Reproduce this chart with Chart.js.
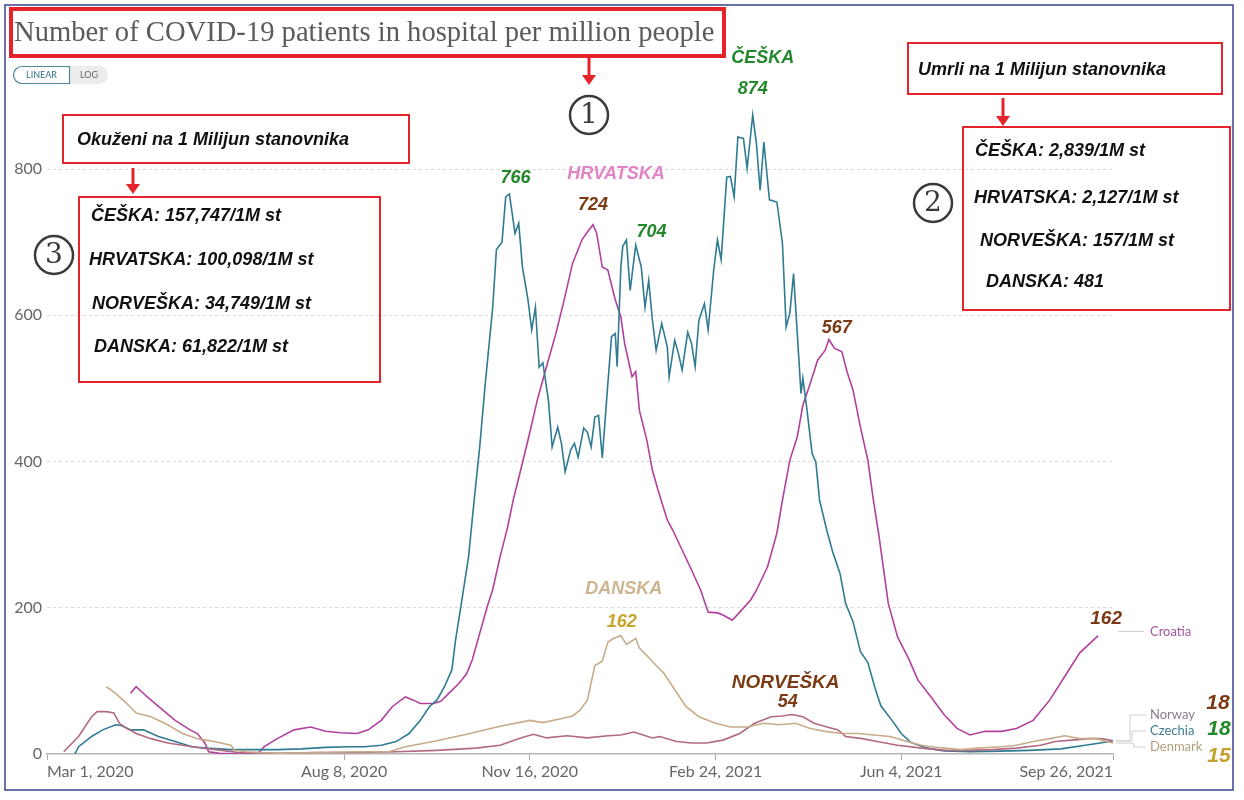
<!DOCTYPE html>
<html>
<head>
<meta charset="utf-8">
<title>COVID-19 patients in hospital per million people</title>
<script src="https://cdn.jsdelivr.net/npm/chart.js@4.4.0/dist/chart.umd.min.js"></script>
<style>
  html, body { margin: 0; padding: 0; background: #fff; }
  #wrap { width: 1244px; height: 800px; }
</style>
</head>
<body>
<div id="wrap"><canvas id="mycanvas" width="1244" height="800"></canvas></div>
<script>
// days counted from Mar 1, 2020
var tickDays = [0, 160, 260, 360, 460, 574];
var tickLabels = ['Mar 1, 2020', 'Aug 8, 2020', 'Nov 16, 2020', 'Feb 24, 2021', 'Jun 4, 2021', 'Sep 26, 2021'];
var yTicks = [0, 200, 400, 600, 800];

var czDays = [15,17,24,30,37,40,45,52,60,69,78,86,99,111,124,137,150,163,171,180,188,195,201,206,210,214,218,220,223,227,230,233,236,240,242,245,247,249,252,254,256,259,261,263,265,267,270,272,275,277,279,282,284,286,289,291,293,295,297,299,302,304,306,307,309,310,312,314,317,320,322,324,326,328,331,334,335,338,340,342,345,347,349,351,354,356,359,361,363,366,368,370,372,375,377,380,382,384,386,389,393,396,398,400,402,404,406,407,409,412,414,416,420,423,427,430,434,438,442,446,449,455,460,465,474,483,497,513,529,546,559,567,574];
var czValues = [0,10,24,33,40,39,33,33,24,17,10,8,6,6,6,7,9,10,10,12,17,28,46,65,74,92,115,156,204,270,347,420,507,611,690,700,762,766,712,726,666,621,580,611,529,535,484,420,447,425,386,416,425,406,446,440,420,461,463,405,507,571,575,530,666,694,703,634,696,666,611,648,593,552,589,557,516,566,548,525,577,562,530,593,616,580,662,703,676,789,790,762,844,842,801,874,835,771,837,758,755,699,584,603,657,575,493,514,475,411,399,347,305,277,247,206,181,140,125,89,66,46,28,16,8,4,3,4,5,7,12,15,18];

var hrDays = [45,48,54,60,69,77,81,85,87,93,104,114,117,124,133,142,150,158,167,173,180,186,193,197,201,208,212,218,222,226,229,233,237,240,244,248,251,256,260,264,269,274,278,283,288,291,294,296,299,302,306,309,311,315,317,319,323,326,329,334,337,342,347,352,356,361,364,369,373,379,382,388,393,396,400,404,407,411,415,419,421,424,428,431,434,438,442,445,448,453,458,464,469,476,483,490,497,505,514,522,531,540,548,556,566];
var hrValues = [83,92,78,65,46,33,28,15,3,1,0,2,10,21,33,37,31,29,28,33,46,65,78,74,69,69,72,87,97,110,129,165,201,225,270,310,347,398,440,484,530,575,616,671,703,714,724,712,666,662,621,598,562,516,523,470,429,388,361,320,306,279,252,224,194,193,190,183,194,211,224,256,302,347,402,434,477,507,539,552,567,555,550,521,498,447,402,347,298,206,160,130,101,78,54,35,26,31,31,35,46,74,106,138,162];

var dkDays = [32,37,43,48,56,65,73,81,90,99,101,107,124,145,167,184,193,208,226,244,260,267,276,283,287,291,295,299,302,305,309,312,317,319,324,328,332,337,344,351,360,368,377,386,394,403,411,419,428,437,445,454,463,471,479,492,501,514,522,531,540,548,556,565,574];
var dkValues = [92,83,69,56,51,40,28,21,17,12,5,3,1,2,3,3,10,17,27,38,46,43,48,52,60,74,121,127,153,158,162,150,158,145,132,121,111,92,65,51,42,37,37,42,40,42,35,31,28,28,26,24,17,12,9,6,8,10,12,17,21,25,21,21,15];

var noDays = [9,17,24,27,32,36,39,43,48,56,65,73,81,94,103,124,145,167,188,210,231,244,255,262,269,280,291,302,309,316,321,326,330,339,347,355,364,373,381,390,396,401,407,413,420,426,430,439,447,458,471,484,497,509,522,535,543,552,561,568,574];
var noValues = [3,24,51,58,58,56,42,35,28,21,15,12,9,5,2,1,2,2,3,5,8,12,22,27,22,25,22,25,26,30,26,22,24,17,15,15,19,28,42,51,52,54,51,42,37,33,24,21,17,12,8,5,5,6,8,12,17,19,21,21,18];

var GREEN = '#23882a';
var BROWN = '#7a3b14';
var BOLD = 'italic bold 18px "Liberation Sans", Arial, sans-serif';

function toPoints(days, values) {
  return days.map(function (d, i) { return { x: d, y: values[i] }; });
}

function valueAt(days, values, day) {
  return values[days.indexOf(day)];
}

// labels placed next to the data points they describe
var peakLabels = [
  { days: czDays, values: czValues, day: 249, text: '766', color: GREEN, dx: 6, dy: -16 },
  { days: hrDays, values: hrValues, day: 294, text: 'HRVATSKA', color: '#e283c6', dx: 23, dy: -51 },
  { days: hrDays, values: hrValues, day: 294, text: '724', color: BROWN, dx: 0, dy: -20 },
  { days: czDays, values: czValues, day: 312, text: '704', color: GREEN, dx: 25, dy: -8 },
  { days: czDays, values: czValues, day: 380, text: 'ČEŠKA', color: GREEN, dx: 10, dy: -57 },
  { days: czDays, values: czValues, day: 380, text: '874', color: GREEN, dx: 0, dy: -26 },
  { days: hrDays, values: hrValues, day: 421, text: '567', color: BROWN, dx: 8, dy: -11 },
  { days: dkDays, values: dkValues, day: 309, text: 'DANSKA', color: '#cdb48e', dx: 3, dy: -47 },
  { days: dkDays, values: dkValues, day: 309, text: '162', color: '#c9a42b', dx: 1, dy: -14 },
  { days: noDays, values: noValues, day: 401, text: 'NORVEŠKA', color: BROWN, dx: -6, dy: -32, size: 19 },
  { days: noDays, values: noValues, day: 401, text: '54', color: BROWN, dx: -4, dy: -12 },
  { days: hrDays, values: hrValues, day: 566, text: '162', color: BROWN, dx: 8, dy: -17, size: 19 }
];

function box(ctx, x1, y1, x2, y2, w) {
  ctx.save();
  ctx.strokeStyle = '#e5232b';
  ctx.lineWidth = w;
  ctx.strokeRect(x1, y1, x2 - x1, y2 - y1);
  ctx.restore();
}

function arrow(ctx, x, y1, y2) {
  ctx.save();
  ctx.strokeStyle = '#e5232b';
  ctx.fillStyle = '#e5232b';
  ctx.lineWidth = 3;
  ctx.beginPath();
  ctx.moveTo(x, y1);
  ctx.lineTo(x, y2 - 8);
  ctx.stroke();
  ctx.beginPath();
  ctx.moveTo(x - 7, y2 - 10);
  ctx.lineTo(x + 7, y2 - 10);
  ctx.lineTo(x, y2);
  ctx.closePath();
  ctx.fill();
  ctx.restore();
}

function circled(ctx, x, y, txt) {
  ctx.save();
  ctx.strokeStyle = '#3a3a3a';
  ctx.lineWidth = 2.5;
  ctx.beginPath();
  ctx.arc(x, y, 19, 0, Math.PI * 2);
  ctx.stroke();
  ctx.fillStyle = '#3a3a3a';
  ctx.font = '28px "DejaVu Serif", serif';
  ctx.textAlign = 'center';
  ctx.textBaseline = 'middle';
  ctx.fillText(txt, x, y + 1);
  ctx.restore();
}

function lines(ctx, rows) {
  ctx.save();
  ctx.fillStyle = '#111';
  ctx.font = BOLD;
  ctx.textAlign = 'left';
  ctx.textBaseline = 'middle';
  rows.forEach(function (r) { ctx.fillText(r[0], r[1], r[2]); });
  ctx.restore();
}

var overlay = {
  id: 'overlay',
  beforeDraw: function (chart) {
    var ctx = chart.ctx;
    ctx.save();
    ctx.fillStyle = '#fff';
    ctx.fillRect(0, 0, chart.width, chart.height);
    ctx.restore();
  },
  afterDraw: function (chart) {
    var ctx = chart.ctx;
    var xs = chart.scales.x, ys = chart.scales.y;
    var area = chart.chartArea;

    // frame
    ctx.save();
    ctx.strokeStyle = '#3b4190';
    ctx.lineWidth = 1.5;
    ctx.strokeRect(5, 5, 1228, 785);
    ctx.restore();

    // title
    ctx.save();
    var title = 'Number of COVID-19 patients in hospital per million people';
    ctx.font = '27px "Liberation Serif", serif';
    var size = 27 * 700 / ctx.measureText(title).width;
    ctx.font = size.toFixed(1) + 'px "Liberation Serif", serif';
    ctx.fillStyle = '#5b5b5b';
    ctx.textBaseline = 'alphabetic';
    ctx.fillText(title, 14, 41);
    ctx.restore();
    box(ctx, 11, 9, 724, 56, 4);

    // linear / log toggle
    ctx.save();
    ctx.fillStyle = '#ececec';
    ctx.beginPath();
    ctx.roundRect(13, 66, 95, 18, 9);
    ctx.fill();
    ctx.fillStyle = '#fff';
    ctx.strokeStyle = '#4d8794';
    ctx.lineWidth = 1.2;
    ctx.beginPath();
    ctx.roundRect(13.5, 66.5, 56, 17, [8.5, 0, 0, 8.5]);
    ctx.fill();
    ctx.stroke();
    ctx.font = '9px Lato, sans-serif';
    ctx.textBaseline = 'middle';
    ctx.textAlign = 'center';
    ctx.fillStyle = '#2f6f7f';
    ctx.fillText('LINEAR', 41.5, 75.5);
    ctx.fillStyle = '#666';
    ctx.fillText('LOG', 89, 75.5);
    ctx.restore();

    // (1)
    arrow(ctx, 589, 57, 85);
    circled(ctx, 589, 115, '1');

    // (3) infected
    box(ctx, 63, 115, 409, 163, 2);
    lines(ctx, [['Okuženi na 1 Milijun stanovnika', 77, 140]]);
    arrow(ctx, 133, 168, 194);
    box(ctx, 79, 197, 380, 382, 2);
    lines(ctx, [
      ['ČEŠKA: 157,747/1M st', 91, 216],
      ['HRVATSKA: 100,098/1M st', 89, 260],
      ['NORVEŠKA: 34,749/1M st', 92, 304],
      ['DANSKA: 61,822/1M st', 94, 347]
    ]);
    circled(ctx, 54, 255, '3');

    // (2) deaths
    box(ctx, 908, 43, 1222, 94, 2);
    lines(ctx, [['Umrli na 1 Milijun stanovnika', 918, 70]]);
    arrow(ctx, 1003, 98, 126);
    box(ctx, 963, 127, 1230, 310, 2);
    lines(ctx, [
      ['ČEŠKA: 2,839/1M st', 975, 151],
      ['HRVATSKA: 2,127/1M st', 974, 198],
      ['NORVEŠKA: 157/1M st', 980, 241],
      ['DANSKA: 481', 986, 282]
    ]);
    circled(ctx, 933, 203, '2');

    // peak labels
    ctx.save();
    ctx.textAlign = 'center';
    ctx.textBaseline = 'middle';
    peakLabels.forEach(function (p) {
      var v = valueAt(p.days, p.values, p.day);
      ctx.font = 'italic bold ' + (p.size || 18) + 'px "Liberation Sans", Arial, sans-serif';
      ctx.fillStyle = p.color;
      ctx.fillText(p.text, xs.getPixelForValue(p.day) + p.dx, ys.getPixelForValue(v) + p.dy);
    });
    ctx.restore();

    // end labels
    ctx.save();
    ctx.strokeStyle = '#cfcfcf';
    ctx.lineWidth = 1;
    var hrEnd = ys.getPixelForValue(hrValues[hrValues.length - 1]);
    var hrY = hrEnd - 4;
    ctx.beginPath();
    ctx.moveTo(area.right + 5, hrY);
    ctx.lineTo(area.right + 31, hrY);
    ctx.stroke();
    var ends = [
      { name: 'Norway', color: '#8b7d8c', y: area.bottom - 39, v: noValues[noValues.length - 1] },
      { name: 'Czechia', color: '#3d7f90', y: area.bottom - 23, v: czValues[czValues.length - 1] },
      { name: 'Denmark', color: '#b39e7f', y: area.bottom - 7, v: dkValues[dkValues.length - 1] }
    ];
    ends.forEach(function (e, i) {
      var yv = ys.getPixelForValue(e.v);
      var bx = area.right + 17 + i * 2;
      ctx.beginPath();
      ctx.moveTo(area.right + 3, yv);
      ctx.lineTo(bx, yv);
      ctx.lineTo(bx, e.y);
      ctx.lineTo(area.right + 33, e.y);
      ctx.stroke();
    });
    ctx.font = '13px Lato, sans-serif';
    ctx.textAlign = 'left';
    ctx.textBaseline = 'middle';
    ctx.fillStyle = '#a2569d';
    ctx.fillText('Croatia', area.right + 37, hrY);
    ends.forEach(function (e) {
      ctx.fillStyle = e.color;
      ctx.fillText(e.name, area.right + 37, e.y);
    });
    ctx.font = 'italic bold 21px "Liberation Sans", Arial, sans-serif';
    ctx.textAlign = 'center';
    ctx.fillStyle = BROWN;
    ctx.fillText(String(ends[0].v), area.right + 105, 703);
    ctx.fillStyle = GREEN;
    ctx.fillText(String(ends[1].v), area.right + 106, 729);
    ctx.fillStyle = '#c4a12c';
    ctx.fillText(String(ends[2].v), area.right + 106, 756);
    ctx.restore();
  }
};

var chartdata = {
  datasets: [
    { label: 'Denmark', data: toPoints(dkDays, dkValues), borderColor: '#c8ac8a' },
    { label: 'Norway', data: toPoints(noDays, noValues), borderColor: '#b26a82' },
    { label: 'Czechia', data: toPoints(czDays, czValues), borderColor: '#2f7b91' },
    { label: 'Croatia', data: toPoints(hrDays, hrValues), borderColor: '#b2409f' }
  ]
};

var ctx = document.getElementById('mycanvas');

var lineGraph = new Chart(ctx, {
  type: 'line',
  data: chartdata,
  plugins: [overlay],
  options: {
    responsive: false,
    animation: false,
    devicePixelRatio: 1,
    layout: { padding: { top: 96, right: 131, bottom: 0, left: 0 } },
    elements: {
      point: { radius: 0 },
      line: { borderWidth: 1.6, tension: 0, fill: false }
    },
    plugins: { legend: { display: false }, tooltip: { enabled: false } },
    scales: {
      x: {
        type: 'linear',
        min: 0,
        max: 574,
        afterBuildTicks: function (scale) {
          scale.ticks = tickDays.map(function (d) { return { value: d }; });
        },
        afterFit: function (scale) { scale.height = 46; },
        grid: { drawOnChartArea: false, drawTicks: true, tickLength: 6, color: '#a8a8a8' },
        border: { display: true, color: '#b5b5b5', width: 1.5 },
        ticks: {
          align: 'inner',
          autoSkip: false,
          maxRotation: 0,
          padding: 2,
          color: '#666',
          font: { family: 'Lato', size: 16 },
          callback: function (value) { return tickLabels[tickDays.indexOf(value)]; }
        }
      },
      y: {
        min: 0,
        max: 900,
        afterBuildTicks: function (scale) {
          scale.ticks = yTicks.map(function (v) { return { value: v }; });
        },
        afterFit: function (scale) { scale.width = 47; },
        grid: {
          drawTicks: false,
          color: function (c) { return c.tick && c.tick.value === 0 ? 'rgba(0,0,0,0)' : '#d9d9d9'; }
        },
        border: { display: false, dash: [3, 3] },
        ticks: {
          padding: 5,
          color: '#666',
          font: { family: 'Lato', size: 16 },
          callback: function (value) { return value; }
        }
      }
    }
  }
});
</script>
</body>
</html>
